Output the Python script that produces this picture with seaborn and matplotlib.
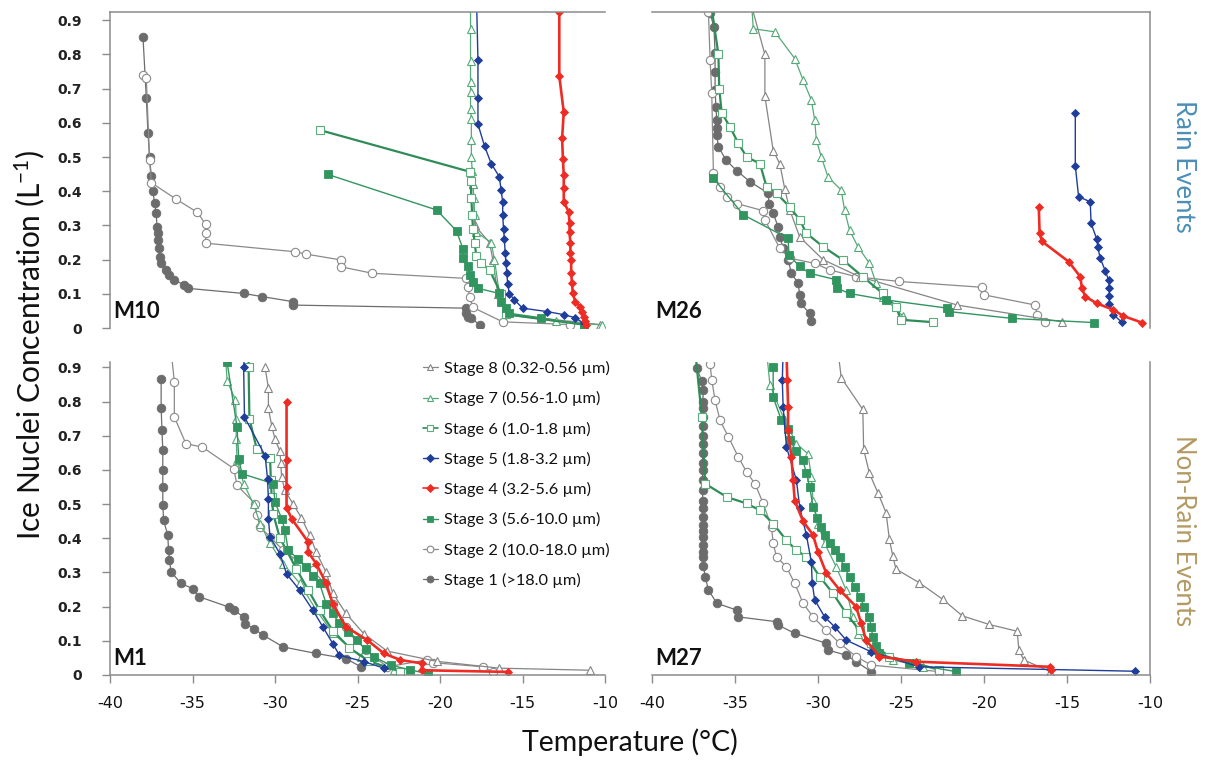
import matplotlib
matplotlib.use("Agg")
import matplotlib.pyplot as plt
from matplotlib.lines import Line2D
import seaborn as sns

# ---------------- data: temperature (degC) and IN concentration (L^-1) ----------------
# M10 (rain event)
m10_s1_t = [-38.0, -37.8, -37.7, -37.6, -37.5, -37.4, -37.3, -37.2, -37.15, -37.1, -37.1, -37.05, -37.0, -36.9, -36.6, -36.4, -36.1, -35.5, -35.3, -31.9, -30.8, -28.9, -28.9, -18.4, -18.4, -18.3, -18.1, -17.6]
m10_s1_c = [0.85, 0.673, 0.571, 0.50, 0.445, 0.40, 0.365, 0.335, 0.296, 0.277, 0.257, 0.233, 0.208, 0.189, 0.170, 0.155, 0.140, 0.126, 0.116, 0.101, 0.092, 0.077, 0.067, 0.058, 0.043, 0.033, 0.029, 0.009]
m10_s2_t = [-38.0, -37.8, -37.6, -37.5, -36.0, -34.7, -34.2, -34.2, -34.2, -28.8, -28.1, -26.0, -26.0, -24.1, -18.4, -18.3, -18.2, -18.0, -16.2, -12.1]
m10_s2_c = [0.74, 0.73, 0.49, 0.425, 0.377, 0.338, 0.303, 0.277, 0.248, 0.223, 0.216, 0.199, 0.179, 0.160, 0.145, 0.12, 0.09, 0.06, 0.018, 0.01]
m10_s3_t = [-26.8, -20.2, -19.0, -18.6, -18.6, -18.3, -18.2, -18.0, -17.7, -16.4, -16.3, -16.0, -15.8, -13.9, -11.3]
m10_s3_c = [0.449, 0.345, 0.284, 0.230, 0.205, 0.18, 0.155, 0.135, 0.116, 0.101, 0.077, 0.058, 0.043, 0.03, 0.009]
m10_s4_t = [-12.77, -12.77, -12.5, -12.6, -12.55, -12.5, -12.5, -12.5, -12.2, -12.15, -12.15, -12.1, -12.1, -12.05, -12.05, -12.0, -11.95, -11.8, -11.5, -11.4, -11.3, -11.2, -11.15]
m10_s4_c = [0.925, 0.737, 0.631, 0.555, 0.493, 0.447, 0.408, 0.369, 0.340, 0.306, 0.28, 0.25, 0.22, 0.20, 0.16, 0.131, 0.101, 0.077, 0.062, 0.048, 0.033, 0.02, 0.009]
m10_s5_t = [-17.8, -17.7, -17.7, -17.7, -17.3, -16.9, -16.4, -16.3, -16.2, -16.2, -16.15, -16.1, -16.05, -16.0, -15.95, -15.9, -15.8, -15.5, -15.0, -13.5, -12.5, -11.8, -11.3]
m10_s5_c = [0.99, 0.784, 0.673, 0.596, 0.532, 0.481, 0.442, 0.404, 0.369, 0.33, 0.29, 0.26, 0.22, 0.19, 0.16, 0.13, 0.10, 0.083, 0.058, 0.048, 0.039, 0.03, 0.014]
m10_s6_t = [-27.3, -18.2, -18.15, -18.1, -18.05, -18.0, -17.9, -17.8, -17.5, -17.0, -16.3, -16.0, -11.3]
m10_s6_c = [0.579, 0.457, 0.43, 0.38, 0.33, 0.29, 0.25, 0.21, 0.19, 0.17, 0.10, 0.04, 0.01]
m10_s7_t = [-18.15, -18.15, -18.15, -18.15, -18.15, -18.15, -18.1, -18.1, -18.1, -18.05, -18.0, -17.95, -17.9, -17.8, -16.9, -16.7, -16.4, -16.0, -13.0, -10.2]
m10_s7_c = [0.98, 0.873, 0.78, 0.72, 0.69, 0.64, 0.61, 0.55, 0.50, 0.46, 0.42, 0.38, 0.33, 0.28, 0.25, 0.20, 0.10, 0.04, 0.02, 0.009]
m10_s8_t = [-18.0, -17.9, -17.0, -16.8, -16.5, -16.0, -10.3]
m10_s8_c = [0.42, 0.30, 0.25, 0.20, 0.10, 0.04, 0.01]

# M26 (rain event)
m26_s1_t = [-36.5, -36.27, -36.2, -36.2, -36.2, -36.15, -36.1, -36.1, -36.1, -36.0, -35.54, -34.9, -34.1, -33.0, -32.95, -32.7, -32.4, -32.3, -32.1, -31.8, -31.6, -31.2, -31.1, -31.05, -30.5, -30.45]
m26_s1_c = [0.92, 0.881, 0.803, 0.75, 0.696, 0.647, 0.608, 0.584, 0.565, 0.530, 0.491, 0.460, 0.428, 0.394, 0.364, 0.335, 0.296, 0.267, 0.233, 0.199, 0.160, 0.131, 0.097, 0.072, 0.043, 0.020]
m26_s2_t = [-36.6, -36.5, -36.4, -36.3, -35.9, -35.5, -34.9, -33.3, -33.2, -32.3, -31.7, -30.2, -29.3, -27.7, -25.1, -20.1, -20.0, -16.9, -16.8, -16.3]
m26_s2_c = [0.925, 0.783, 0.686, 0.452, 0.413, 0.384, 0.364, 0.343, 0.316, 0.233, 0.204, 0.189, 0.170, 0.150, 0.136, 0.119, 0.097, 0.067, 0.038, 0.018]
m26_s3_t = [-36.3, -34.5, -31.8, -31.75, -31.1, -30.5, -28.9, -28.85, -28.1, -25.9, -22.2, -22.1, -18.3, -13.4]
m26_s3_c = [0.438, 0.331, 0.262, 0.213, 0.18, 0.16, 0.141, 0.116, 0.101, 0.082, 0.058, 0.048, 0.028, 0.016]
m26_s4_t = [-16.7, -16.65, -16.5, -14.9, -14.2, -14.1, -13.9, -13.2, -12.2, -11.6, -10.5]
m26_s4_c = [0.355, 0.277, 0.253, 0.194, 0.150, 0.116, 0.092, 0.072, 0.053, 0.035, 0.016]
m26_s5_t = [-14.5, -14.5, -14.3, -13.6, -13.55, -13.2, -13.15, -13.0, -12.7, -12.5, -12.45, -12.45, -12.45, -12.2, -11.7]
m26_s5_c = [0.628, 0.474, 0.384, 0.369, 0.306, 0.259, 0.238, 0.204, 0.168, 0.141, 0.116, 0.094, 0.070, 0.039, 0.017]
m26_s6_t = [-36.45, -36.0, -35.95, -35.8, -35.3, -34.8, -34.3, -33.5, -33.1, -32.5, -31.7, -31.1, -30.7, -29.7, -28.5, -27.3, -26.1, -25.3, -25.0, -23.05]
m26_s6_c = [0.95, 0.80, 0.70, 0.629, 0.588, 0.540, 0.50, 0.481, 0.413, 0.394, 0.354, 0.316, 0.277, 0.238, 0.199, 0.15, 0.101, 0.062, 0.024, 0.017]
m26_s7_t = [-34.0, -33.9, -32.6, -31.4, -30.9, -30.4, -30.2, -30.1, -29.8, -29.4, -28.6, -28.4, -28.1, -27.6, -26.9, -26.5, -26.1, -24.9]
m26_s7_c = [0.95, 0.875, 0.866, 0.788, 0.725, 0.667, 0.608, 0.55, 0.5, 0.442, 0.403, 0.345, 0.286, 0.238, 0.189, 0.131, 0.092, 0.036]
m26_s8_t = [-34.05, -33.2, -33.2, -32.7, -32.3, -32.0, -31.7, -31.1, -29.7, -27.5, -21.6, -15.3]
m26_s8_c = [0.95, 0.80, 0.678, 0.519, 0.48, 0.406, 0.345, 0.266, 0.2, 0.15, 0.067, 0.018]

# M1 (non-rain event)
m1_s1_t = [-36.9, -36.9, -36.85, -36.8, -36.8, -36.8, -36.8, -36.75, -36.5, -36.45, -36.4, -36.3, -35.7, -35.0, -34.6, -32.8, -32.5, -31.9, -31.8, -31.3, -30.7, -29.5, -27.5, -25.7, -24.8]
m1_s1_c = [0.865, 0.78, 0.716, 0.658, 0.60, 0.55, 0.497, 0.453, 0.409, 0.365, 0.336, 0.302, 0.268, 0.253, 0.229, 0.199, 0.19, 0.170, 0.15, 0.136, 0.116, 0.082, 0.063, 0.048, 0.024]
m1_s2_t = [-36.3, -36.1, -36.1, -35.4, -34.4, -32.5, -32.3, -31.2, -31.1, -30.9, -30.3, -29.5, -28.7, -27.7, -27.0, -26.5, -25.7, -24.5, -23.2, -20.8, -20.4, -17.4, -16.8]
m1_s2_c = [0.95, 0.858, 0.755, 0.677, 0.667, 0.604, 0.555, 0.501, 0.467, 0.433, 0.404, 0.365, 0.336, 0.306, 0.268, 0.209, 0.141, 0.072, 0.024, 0.044, 0.036, 0.024, 0.009]
m1_s3_t = [-32.9, -32.3, -32.2, -32.0, -30.1, -30.0, -29.6, -29.4, -29.2, -28.6, -28.1, -27.7, -27.3, -26.9, -26.5, -26.1, -25.6, -25.05, -24.5, -24.0, -23.0, -21.8, -20.7]
m1_s3_c = [0.915, 0.725, 0.633, 0.589, 0.560, 0.506, 0.458, 0.424, 0.365, 0.34, 0.316, 0.29, 0.268, 0.209, 0.18, 0.151, 0.125, 0.102, 0.075, 0.053, 0.029, 0.015, 0.003]
m1_s4_t = [-29.3, -29.3, -29.3, -29.3, -29.0, -28.0, -28.0, -27.5, -26.9, -26.5, -25.7, -24.4, -23.4, -22.4, -21.1, -21.1, -15.9]
m1_s4_c = [0.80, 0.63, 0.55, 0.49, 0.458, 0.390, 0.360, 0.326, 0.268, 0.209, 0.141, 0.102, 0.063, 0.044, 0.034, 0.014, 0.009]
m1_s5_t = [-31.8, -31.9, -31.85, -30.6, -30.45, -30.4, -30.4, -30.3, -29.7, -29.3, -28.5, -27.7, -27.1, -26.5, -26.1, -24.6, -23.4]
m1_s5_c = [0.98, 0.90, 0.755, 0.642, 0.573, 0.514, 0.456, 0.404, 0.355, 0.296, 0.248, 0.189, 0.141, 0.092, 0.058, 0.039, 0.02]
m1_s6_t = [-31.6, -31.6, -31.55, -31.1, -30.3, -30.25, -30.2, -30.1, -29.7, -29.3, -28.7, -28.0, -27.3, -26.5, -25.5, -24.3, -22.4]
m1_s6_c = [0.98, 0.90, 0.75, 0.66, 0.636, 0.57, 0.52, 0.47, 0.40, 0.365, 0.31, 0.25, 0.19, 0.13, 0.08, 0.04, 0.01]
m1_s7_t = [-33.0, -32.9, -32.4, -32.35, -32.35, -32.3, -31.9, -31.3, -30.9, -30.3, -29.5, -28.5, -27.5, -26.5, -24.8, -22.8]
m1_s7_c = [0.93, 0.86, 0.806, 0.75, 0.69, 0.63, 0.56, 0.50, 0.443, 0.385, 0.326, 0.268, 0.19, 0.122, 0.053, 0.014]
m1_s8_t = [-30.6, -30.4, -30.4, -30.2, -30.0, -29.7, -29.65, -29.6, -29.4, -28.9, -28.4, -27.9, -27.5, -26.9, -26.5, -25.7, -24.6, -23.2, -20.2, -16.4, -10.9]
m1_s8_c = [0.90, 0.84, 0.78, 0.73, 0.69, 0.655, 0.62, 0.58, 0.54, 0.50, 0.46, 0.41, 0.36, 0.30, 0.24, 0.18, 0.12, 0.07, 0.04, 0.02, 0.014]

# M27 (non-rain event)
m27_s1_t = [-37.3, -37.0, -36.9, -36.95, -36.95, -36.95, -36.95, -36.95, -36.95, -36.95, -36.95, -36.95, -36.95, -36.95, -36.95, -36.95, -36.95, -36.95, -36.95, -36.95, -36.95, -36.95, -36.9, -36.9, -36.8, -36.6, -36.1, -34.9, -34.8, -32.5, -32.4, -31.4, -29.5, -29.4, -28.3, -27.7, -26.8]
m27_s1_c = [0.897, 0.86, 0.833, 0.80, 0.78, 0.755, 0.73, 0.70, 0.677, 0.65, 0.62, 0.599, 0.57, 0.541, 0.51, 0.49, 0.463, 0.44, 0.42, 0.404, 0.38, 0.36, 0.346, 0.32, 0.288, 0.249, 0.210, 0.19, 0.17, 0.156, 0.146, 0.122, 0.093, 0.073, 0.058, 0.039, 0.010]
m27_s2_t = [-36.5, -36.4, -36.2, -35.9, -35.4, -34.8, -34.3, -33.8, -33.3, -32.8, -32.7, -32.5, -31.9, -31.4, -30.9, -30.3, -29.5, -28.7, -27.7, -26.8, -22.7]
m27_s2_c = [0.911, 0.863, 0.804, 0.745, 0.697, 0.638, 0.594, 0.560, 0.502, 0.433, 0.385, 0.346, 0.316, 0.268, 0.21, 0.17, 0.131, 0.093, 0.054, 0.029, 0.010]
m27_s3_t = [-32.7, -32.7, -32.2, -31.8, -31.7, -31.3, -30.9, -30.7, -30.5, -30.3, -30.05, -29.8, -29.55, -29.3, -29.0, -28.7, -28.4, -28.1, -27.8, -27.5, -27.2, -26.9, -26.8, -26.7, -26.5, -26.3, -24.5, -21.7]
m27_s3_c = [0.90, 0.813, 0.745, 0.72, 0.687, 0.655, 0.628, 0.59, 0.550, 0.492, 0.46, 0.433, 0.41, 0.385, 0.365, 0.346, 0.315, 0.288, 0.258, 0.229, 0.20, 0.170, 0.14, 0.112, 0.085, 0.063, 0.034, 0.010]
m27_s4_t = [-31.9, -31.85, -31.8, -31.8, -31.6, -31.5, -31.4, -30.9, -30.3, -30.0, -29.5, -28.7, -27.7, -27.4, -27.1, -26.3, -24.1, -16.0, -15.95]
m27_s4_c = [0.95, 0.862, 0.784, 0.716, 0.638, 0.57, 0.51, 0.45, 0.41, 0.36, 0.298, 0.249, 0.20, 0.151, 0.102, 0.054, 0.039, 0.024, 0.016]
m27_s5_t = [-32.1, -32.15, -32.1, -31.9, -31.3, -31.1, -30.7, -30.4, -30.35, -30.2, -29.6, -29.0, -28.3, -26.8, -23.9, -10.9]
m27_s5_c = [0.95, 0.862, 0.784, 0.667, 0.57, 0.49, 0.41, 0.33, 0.27, 0.22, 0.17, 0.141, 0.102, 0.068, 0.024, 0.011]
m27_s6_t = [-37.4, -37.0, -36.8, -35.5, -34.3, -33.5, -32.7, -31.9, -31.3, -30.7, -29.9, -29.1, -28.3, -27.5, -26.8, -25.7, -24.1, -22.7]
m27_s6_c = [0.95, 0.755, 0.560, 0.521, 0.502, 0.482, 0.443, 0.394, 0.365, 0.346, 0.288, 0.239, 0.18, 0.131, 0.093, 0.054, 0.034, 0.015]
m27_s7_t = [-33.1, -32.9, -32.1, -31.3, -30.6, -30.4, -30.3, -30.0, -29.6, -28.9, -28.3, -27.9, -27.6, -26.8, -25.5, -23.7]
m27_s7_c = [0.95, 0.85, 0.755, 0.677, 0.647, 0.58, 0.51, 0.443, 0.385, 0.316, 0.248, 0.17, 0.12, 0.073, 0.044, 0.024]
m27_s8_t = [-28.8, -28.6, -27.3, -27.25, -26.9, -26.4, -25.9, -25.7, -25.5, -25.3, -23.9, -22.5, -21.3, -19.7, -18.0, -17.9, -17.6, -16.0]
m27_s8_c = [0.95, 0.87, 0.777, 0.66, 0.59, 0.534, 0.475, 0.397, 0.349, 0.31, 0.27, 0.222, 0.173, 0.148, 0.128, 0.073, 0.044, 0.010]

stage_labels = {
    8: "Stage 8 (0.32-0.56 \u00b5m)",
    7: "Stage 7 (0.56-1.0 \u00b5m)",
    6: "Stage 6 (1.0-1.8 \u00b5m)",
    5: "Stage 5 (1.8-3.2 \u00b5m)",
    4: "Stage 4 (3.2-5.6 \u00b5m)",
    3: "Stage 3 (5.6-10.0 \u00b5m)",
    2: "Stage 2 (10.0-18.0 \u00b5m)",
    1: "Stage 1 (>18.0 \u00b5m)",
}
panel_names = ["M10", "M26", "M1", "M27"]
x_ticks = [-40, -35, -30, -25, -20, -15, -10]
y_ticks = [0, 0.1, 0.2, 0.3, 0.4, 0.5, 0.6, 0.7, 0.8, 0.9]
y_tick_labels = ["0", "0.1", "0.2", "0.3", "0.4", "0.5", "0.6", "0.7", "0.8", "0.9"]

panels = {
    "M10": {1: (m10_s1_t, m10_s1_c), 2: (m10_s2_t, m10_s2_c), 3: (m10_s3_t, m10_s3_c), 4: (m10_s4_t, m10_s4_c),
            5: (m10_s5_t, m10_s5_c), 6: (m10_s6_t, m10_s6_c), 7: (m10_s7_t, m10_s7_c), 8: (m10_s8_t, m10_s8_c)},
    "M26": {1: (m26_s1_t, m26_s1_c), 2: (m26_s2_t, m26_s2_c), 3: (m26_s3_t, m26_s3_c), 4: (m26_s4_t, m26_s4_c),
            5: (m26_s5_t, m26_s5_c), 6: (m26_s6_t, m26_s6_c), 7: (m26_s7_t, m26_s7_c), 8: (m26_s8_t, m26_s8_c)},
    "M1": {1: (m1_s1_t, m1_s1_c), 2: (m1_s2_t, m1_s2_c), 3: (m1_s3_t, m1_s3_c), 4: (m1_s4_t, m1_s4_c),
           5: (m1_s5_t, m1_s5_c), 6: (m1_s6_t, m1_s6_c), 7: (m1_s7_t, m1_s7_c), 8: (m1_s8_t, m1_s8_c)},
    "M27": {1: (m27_s1_t, m27_s1_c), 2: (m27_s2_t, m27_s2_c), 3: (m27_s3_t, m27_s3_c), 4: (m27_s4_t, m27_s4_c),
            5: (m27_s5_t, m27_s5_c), 6: (m27_s6_t, m27_s6_c), 7: (m27_s7_t, m27_s7_c), 8: (m27_s8_t, m27_s8_c)},
}

# ---------------- styles ----------------
styles = {
    8: dict(color="#858585", marker="^", ms=6, mfc="white", mec="#858585", mew=0.8, lw=0.9),
    7: dict(color="#55a978", marker="^", ms=6, mfc="white", mec="#55a978", mew=0.8, lw=0.9),
    6: dict(color="#2f8c58", marker="s", ms=5.5, mfc="white", mec="#5aae7c", mew=0.8, lw=1.6),
    5: dict(color="#1f3d9a", marker="D", ms=4.5, mfc="#1f3d9a", mec="#1f3d9a", mew=0.6, lw=1.0),
    4: dict(color="#ee2c24", marker="D", ms=4.5, mfc="#ee2c24", mec="#ee2c24", mew=0.6, lw=1.9),
    3: dict(color="#31955f", marker="s", ms=6, mfc="#31955f", mec="#31955f", mew=0.6, lw=1.0),
    2: dict(color="#8a8a8a", marker="o", ms=6, mfc="white", mec="#8a8a8a", mew=0.8, lw=0.9),
    1: dict(color="#6c6c6c", marker="o", ms=6.2, mfc="#6c6c6c", mec="#6c6c6c", mew=0.6, lw=0.9),
}
draw_order = [1, 2, 8, 7, 6, 3, 5, 4]

sns.set_theme(style="white")
plt.rcParams["font.family"] = ["Lato", "DejaVu Sans"]
plt.rcParams["mathtext.fontset"] = "custom"
plt.rcParams["mathtext.rm"] = "Lato"
plt.rcParams["mathtext.it"] = "Lato:italic"
plt.rcParams["mathtext.bf"] = "Lato:bold"

fig = plt.figure(figsize=(12.06, 7.64), dpi=100)
W, H = 1206.0, 764.0
rects = {
    "M10": (110 / W, 1 - 328 / H, 495 / W, 316 / H),
    "M26": (652 / W, 1 - 328 / H, 498 / W, 316 / H),
    "M1": (110 / W, 1 - 675 / H, 495 / W, 313 / H),
    "M27": (652 / W, 1 - 675 / H, 498 / W, 313 / H),
}
ytops = {"M10": 0.924, "M26": 0.924, "M1": 0.916, "M27": 0.916}
spine_col = "#8c8c8c"

axes = {}
for name in panel_names:
    ax = fig.add_axes(rects[name])
    axes[name] = ax
    for st in draw_order:
        t, c = panels[name][st]
        sns.lineplot(x=t, y=c, ax=ax, sort=False, estimator=None, legend=False, **styles[st])
    ax.set_xlim(-40, -10)
    ax.set_ylim(0, ytops[name])
    ax.set_xlabel("")
    ax.set_ylabel("")
    for s in ax.spines.values():
        s.set_color(spine_col)
        s.set_linewidth(1.1)
        s.set_visible(False)
    left = name in ("M10", "M1")
    top = name in ("M10", "M26")
    ax.spines["left"].set_visible(left)
    ax.spines["right"].set_visible(not left)
    ax.spines["top"].set_visible(top)
    ax.spines["bottom"].set_visible(not top)
    if left:
        ax.set_yticks(y_ticks)
        ax.set_yticklabels(y_tick_labels, fontfamily="DejaVu Sans", fontweight="bold", fontsize=10, color="#222222")
        ax.tick_params(axis="y", left=True, length=6, width=1.0, color=spine_col, pad=14, direction="out")
    else:
        ax.set_yticks([])
    if not top:
        ax.set_xticks(x_ticks)
        ax.set_xticklabels([str(v) for v in x_ticks],
                           fontfamily=["Liberation Sans Narrow", "DejaVu Sans"], fontsize=11.5, color="#111111")
        ax.tick_params(axis="x", bottom=True, length=6, width=1.0, color=spine_col, pad=9, direction="out")
    else:
        ax.set_xticks([])
    ax.text(0.006, 0.02, name, transform=ax.transAxes, fontsize=16, fontweight="bold",
            color="#111111", ha="left", va="bottom")

# legend in M1
handles = []
for st in [8, 7, 6, 5, 4, 3, 2, 1]:
    s = styles[st]
    handles.append(Line2D([0], [0], color=s["color"], marker=s["marker"], ms=s["ms"] * 0.8,
                          mfc=s["mfc"], mec=s["mec"], mew=s["mew"], lw=min(s["lw"], 1.2),
                          label=stage_labels[st]))
leg = axes["M1"].legend(handles=handles, loc="upper right", bbox_to_anchor=(1.03, 1.035),
                        frameon=False, fontsize=11.8, handlelength=0.9, handletextpad=0.4,
                        labelspacing=0.93, borderaxespad=0.2)
for txt in leg.get_texts():
    txt.set_color("#111111")

fig.text(30 / W, 1 - 345 / H, "Ice Nuclei Concentration (L$^{\\mathrm{-1}}$)", rotation=90,
         ha="center", va="center", fontsize=21.5, color="#111111")
fig.text(630 / W, 1 - 742 / H, "Temperature (\u00b0C)", ha="center", va="center", fontsize=20.5, color="#111111")
fig.text(1183 / W, 1 - 166 / H, "Rain Events", rotation=-90, ha="center", va="center",
         fontsize=18.5, color="#4a8fb8")
fig.text(1183 / W, 1 - 531 / H, "Non-Rain Events", rotation=-90, ha="center", va="center",
         fontsize=18.5, color="#b39a62")

fig.savefig("out.png", dpi=100)
